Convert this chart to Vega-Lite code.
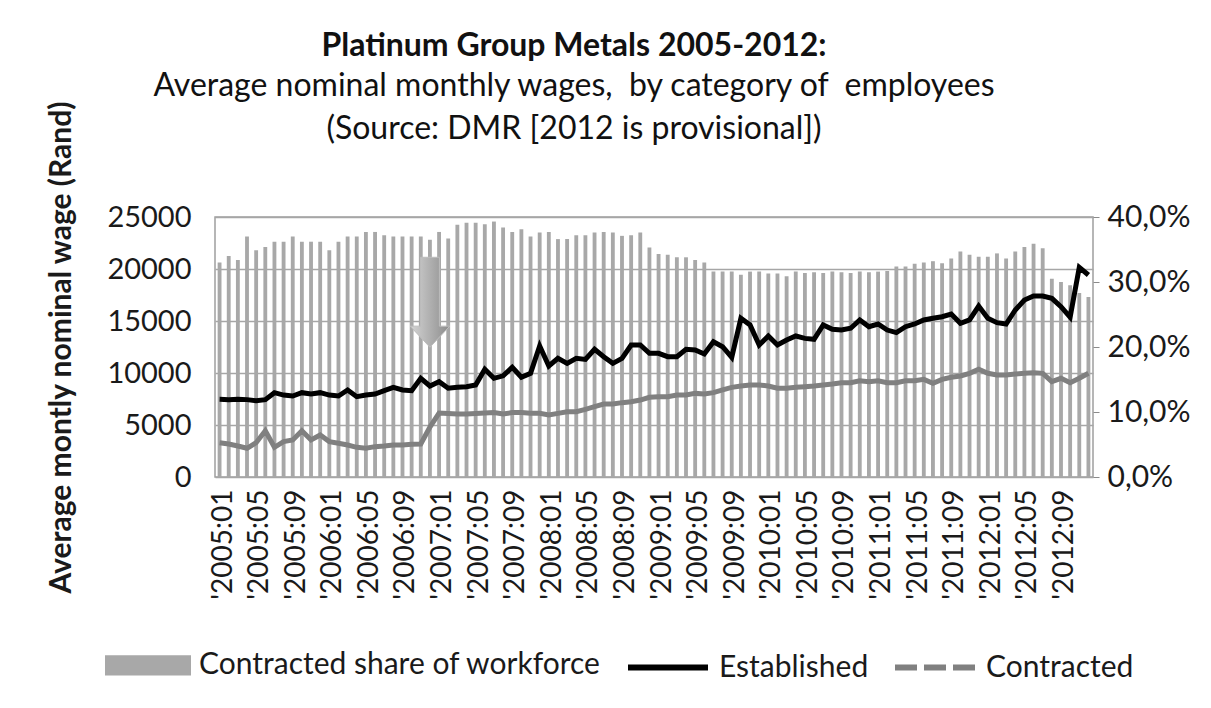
{
  "$schema": "https://vega.github.io/schema/vega-lite/v6.json",
  "width": 878,
  "height": 260,
  "autosize": {"type": "none"},
  "padding": {"left": 215, "top": 217, "right": 118, "bottom": 231},
  "background": "white",
  "config": {
    "font": "Lato",
    "view": {"stroke": "#9f9f9f", "strokeWidth": 1.5},
    "axis": {"labelColor": "#1a1a1a", "titleColor": "#1a1a1a", "labelFont": "Lato", "titleFont": "Lato"}
  },
  "title": {
    "text": "Platinum Group Metals 2005-2012:",
    "subtitle": ["Average nominal monthly wages,\u00a0 by category of\u00a0 employees", "(Source: DMR [2012 is provisional])"],
    "anchor": "middle",
    "font": "Lato",
    "subtitleFont": "Lato",
    "fontSize": 32,
    "fontWeight": "bold",
    "subtitleFontSize": 32,
    "subtitleFontWeight": "normal",
    "subtitleLineHeight": 43,
    "subtitlePadding": 8,
    "color": "#111111",
    "subtitleColor": "#111111",
    "offset": -46,
    "dx": -80
  },
  "datasets": {
    "wages": [
      {"month": "2005:01", "share": 33.0, "Established": 7470, "Contracted": 3300},
      {"month": "2005:02", "share": 34.0, "Established": 7440, "Contracted": 3170},
      {"month": "2005:03", "share": 33.4, "Established": 7470, "Contracted": 2980},
      {"month": "2005:04", "share": 37.0, "Established": 7440, "Contracted": 2760},
      {"month": "2005:05", "share": 34.9, "Established": 7340, "Contracted": 3300},
      {"month": "2005:06", "share": 35.4, "Established": 7440, "Contracted": 4450},
      {"month": "2005:07", "share": 36.2, "Established": 8110, "Contracted": 2860},
      {"month": "2005:08", "share": 36.2, "Established": 7880, "Contracted": 3400},
      {"month": "2005:09", "share": 37.0, "Established": 7790, "Contracted": 3560},
      {"month": "2005:10", "share": 36.2, "Established": 8110, "Contracted": 4450},
      {"month": "2005:11", "share": 36.2, "Established": 7980, "Contracted": 3560},
      {"month": "2005:12", "share": 36.2, "Established": 8110, "Contracted": 4040},
      {"month": "2006:01", "share": 34.9, "Established": 7880, "Contracted": 3400},
      {"month": "2006:02", "share": 36.2, "Established": 7790, "Contracted": 3240},
      {"month": "2006:03", "share": 37.0, "Established": 8370, "Contracted": 3080},
      {"month": "2006:04", "share": 37.0, "Established": 7720, "Contracted": 2850},
      {"month": "2006:05", "share": 37.7, "Established": 7880, "Contracted": 2760},
      {"month": "2006:06", "share": 37.7, "Established": 7980, "Contracted": 2920},
      {"month": "2006:07", "share": 37.2, "Established": 8300, "Contracted": 2980},
      {"month": "2006:08", "share": 37.0, "Established": 8620, "Contracted": 3080},
      {"month": "2006:09", "share": 37.0, "Established": 8370, "Contracted": 3080},
      {"month": "2006:10", "share": 37.0, "Established": 8300, "Contracted": 3140},
      {"month": "2006:11", "share": 37.0, "Established": 9490, "Contracted": 3170},
      {"month": "2006:12", "share": 36.5, "Established": 8750, "Contracted": 4800},
      {"month": "2007:01", "share": 37.7, "Established": 9170, "Contracted": 6150},
      {"month": "2007:02", "share": 36.7, "Established": 8530, "Contracted": 6100},
      {"month": "2007:03", "share": 38.8, "Established": 8620, "Contracted": 6050},
      {"month": "2007:04", "share": 39.1, "Established": 8680, "Contracted": 6050},
      {"month": "2007:05", "share": 39.1, "Established": 8850, "Contracted": 6100},
      {"month": "2007:06", "share": 38.9, "Established": 10360, "Contracted": 6150},
      {"month": "2007:07", "share": 39.3, "Established": 9490, "Contracted": 6200},
      {"month": "2007:08", "share": 38.4, "Established": 9730, "Contracted": 6060},
      {"month": "2007:09", "share": 37.7, "Established": 10550, "Contracted": 6190},
      {"month": "2007:10", "share": 38.1, "Established": 9590, "Contracted": 6190},
      {"month": "2007:11", "share": 37.0, "Established": 9970, "Contracted": 6120},
      {"month": "2007:12", "share": 37.6, "Established": 12600, "Contracted": 6120},
      {"month": "2008:01", "share": 37.7, "Established": 10670, "Contracted": 5960},
      {"month": "2008:02", "share": 36.6, "Established": 11410, "Contracted": 6120},
      {"month": "2008:03", "share": 36.6, "Established": 10930, "Contracted": 6280},
      {"month": "2008:04", "share": 37.2, "Established": 11410, "Contracted": 6280},
      {"month": "2008:05", "share": 37.2, "Established": 11310, "Contracted": 6510},
      {"month": "2008:06", "share": 37.6, "Established": 12280, "Contracted": 6760},
      {"month": "2008:07", "share": 37.7, "Established": 11570, "Contracted": 7020},
      {"month": "2008:08", "share": 37.6, "Established": 10930, "Contracted": 7020},
      {"month": "2008:09", "share": 37.1, "Established": 11410, "Contracted": 7150},
      {"month": "2008:10", "share": 37.2, "Established": 12690, "Contracted": 7240},
      {"month": "2008:11", "share": 37.6, "Established": 12690, "Contracted": 7400},
      {"month": "2008:12", "share": 35.3, "Established": 11890, "Contracted": 7660},
      {"month": "2009:01", "share": 34.3, "Established": 11890, "Contracted": 7720},
      {"month": "2009:02", "share": 34.2, "Established": 11570, "Contracted": 7720},
      {"month": "2009:03", "share": 33.8, "Established": 11570, "Contracted": 7880},
      {"month": "2009:04", "share": 33.8, "Established": 12280, "Contracted": 7880},
      {"month": "2009:05", "share": 33.4, "Established": 12210, "Contracted": 8040},
      {"month": "2009:06", "share": 33.0, "Established": 11830, "Contracted": 7980},
      {"month": "2009:07", "share": 31.6, "Established": 13010, "Contracted": 8110},
      {"month": "2009:08", "share": 31.6, "Established": 12530, "Contracted": 8370},
      {"month": "2009:09", "share": 31.6, "Established": 11510, "Contracted": 8620},
      {"month": "2009:10", "share": 31.1, "Established": 15260, "Contracted": 8750},
      {"month": "2009:11", "share": 31.6, "Established": 14620, "Contracted": 8850},
      {"month": "2009:12", "share": 31.6, "Established": 12690, "Contracted": 8850},
      {"month": "2010:01", "share": 31.3, "Established": 13560, "Contracted": 8750},
      {"month": "2010:02", "share": 31.3, "Established": 12690, "Contracted": 8530},
      {"month": "2010:03", "share": 30.9, "Established": 13170, "Contracted": 8530},
      {"month": "2010:04", "share": 31.6, "Established": 13560, "Contracted": 8620},
      {"month": "2010:05", "share": 31.4, "Established": 13330, "Contracted": 8680},
      {"month": "2010:06", "share": 31.5, "Established": 13240, "Contracted": 8750},
      {"month": "2010:07", "share": 31.4, "Established": 14620, "Contracted": 8850},
      {"month": "2010:08", "share": 31.6, "Established": 14200, "Contracted": 8940},
      {"month": "2010:09", "share": 31.5, "Established": 14130, "Contracted": 9070},
      {"month": "2010:10", "share": 31.4, "Established": 14300, "Contracted": 9070},
      {"month": "2010:11", "share": 31.6, "Established": 15100, "Contracted": 9260},
      {"month": "2010:12", "share": 31.5, "Established": 14450, "Contracted": 9170},
      {"month": "2011:01", "share": 31.6, "Established": 14710, "Contracted": 9260},
      {"month": "2011:02", "share": 31.7, "Established": 14130, "Contracted": 9070},
      {"month": "2011:03", "share": 32.4, "Established": 13880, "Contracted": 9070},
      {"month": "2011:04", "share": 32.4, "Established": 14450, "Contracted": 9260},
      {"month": "2011:05", "share": 32.8, "Established": 14710, "Contracted": 9260},
      {"month": "2011:06", "share": 33.0, "Established": 15100, "Contracted": 9390},
      {"month": "2011:07", "share": 33.2, "Established": 15260, "Contracted": 9010},
      {"month": "2011:08", "share": 32.9, "Established": 15410, "Contracted": 9390},
      {"month": "2011:09", "share": 33.6, "Established": 15670, "Contracted": 9590},
      {"month": "2011:10", "share": 34.7, "Established": 14780, "Contracted": 9710},
      {"month": "2011:11", "share": 34.2, "Established": 15100, "Contracted": 9970},
      {"month": "2011:12", "share": 33.9, "Established": 16440, "Contracted": 10360},
      {"month": "2012:01", "share": 33.9, "Established": 15260, "Contracted": 9970},
      {"month": "2012:02", "share": 34.4, "Established": 14840, "Contracted": 9810},
      {"month": "2012:03", "share": 33.6, "Established": 14710, "Contracted": 9810},
      {"month": "2012:04", "share": 34.7, "Established": 16060, "Contracted": 9900},
      {"month": "2012:05", "share": 35.4, "Established": 17020, "Contracted": 9970},
      {"month": "2012:06", "share": 35.9, "Established": 17400, "Contracted": 10030},
      {"month": "2012:07", "share": 35.2, "Established": 17400, "Contracted": 9970},
      {"month": "2012:08", "share": 30.5, "Established": 17180, "Contracted": 9170},
      {"month": "2012:09", "share": 30.0, "Established": 16380, "Contracted": 9490},
      {"month": "2012:10", "share": 29.5, "Established": 15360, "Contracted": 9070},
      {"month": "2012:11", "share": 28.3, "Established": 20160, "Contracted": 9490},
      {"month": "2012:12", "share": 27.7, "Established": 19420, "Contracted": 9970}
    ],
    "note": [{"month": "2006:12", "wage": 16800}]
  },
  "data": {"name": "wages"},
  "encoding": {
    "x": {
      "field": "month",
      "type": "nominal",
      "sort": null,
      "title": null,
      "scale": {"paddingInner": 0, "paddingOuter": 0},
      "axis": {
        "labelAngle": -90,
        "labelFontSize": 28,
        "labelPadding": 12,
        "labelOffset": 4,
        "labelOverlap": false,
        "ticks": false,
        "domain": false,
        "labelExpr": "(toNumber(substring(datum.value, 5, 7)) - 1) % 4 == 0 ? \"'\" + datum.value : ''"
      }
    }
  },
  "layer": [
    {
      "mark": {"type": "bar", "width": {"band": 0.42}},
      "encoding": {
        "y": {
          "field": "share",
          "type": "quantitative",
          "title": null,
          "scale": {"domain": [0, 40], "nice": false},
          "axis": {
            "orient": "right",
            "values": [0, 10, 20, 30, 40],
            "labelExpr": "replace(format(datum.value, '.1f'), '.', ',') + '%'",
            "labelFontSize": 30,
            "labelPadding": 8,
            "tickSize": 6,
            "tickColor": "#8a8a8a",
            "domain": false,
            "grid": false
          }
        },
        "color": {
          "datum": "Contracted share of workforce",
          "scale": {
            "domain": ["Contracted share of workforce", "Established", "Contracted"],
            "range": ["#a8a8a8", "#000000", "#808080"]
          },
          "legend": {
            "title": null,
            "orient": "none",
            "direction": "horizontal",
            "legendX": -110,
            "legendY": 405,
            "padding": 0,
            "symbolSize": 6400,
            "symbolStrokeWidth": 6,
            "labelFontSize": 30,
            "labelFont": "Lato",
            "labelColor": "#1a1a1a",
            "labelOffset": 8,
            "labelLimit": 600,
            "columnPadding": 14,
            "encode": {
              "symbols": {
                "update": {
                  "shape": {"signal": "datum.value === 'Contracted share of workforce' ? 'M-1,-0.18H1V0.18H-1Z' : 'stroke'"},
                  "fill": {"signal": "datum.value === 'Contracted share of workforce' ? '#a8a8a8' : 'transparent'"},
                  "stroke": {"signal": "datum.value === 'Contracted share of workforce' ? 'transparent' : (datum.value === 'Established' ? '#000000' : '#808080')"},
                  "strokeDash": {"signal": "datum.value === 'Contracted' ? [22, 7] : []"},
                  "strokeWidth": {"value": 6},
                  "opacity": {"value": 1}
                }
              }
            }
          }
        }
      }
    },
    {
      "layer": [
        {
          "transform": [{"fold": ["Established", "Contracted"], "as": ["series", "wage"]}],
          "mark": {"type": "line", "strokeWidth": 5},
          "encoding": {
            "y": {
              "field": "wage",
              "type": "quantitative",
              "title": "Average montly nominal wage (Rand)",
              "scale": {"domain": [0, 25000], "nice": false},
              "axis": {
                "orient": "left",
                "values": [0, 5000, 10000, 15000, 20000, 25000],
                "format": "d",
                "labelFontSize": 29,
                "labelPadding": 24,
                "ticks": false,
                "domain": false,
                "grid": true,
                "gridColor": "#a6a6a6",
                "gridWidth": 1.5,
                "titleFontSize": 30,
                "titleFontWeight": "bold",
                "titlePadding": 30
              }
            },
            "color": {
              "field": "series",
              "type": "nominal",
              "sort": null,
              "legend": {
                "title": null,
                "orient": "none",
                "direction": "horizontal",
                "legendX": -110,
                "legendY": 405,
                "padding": 0,
                "symbolSize": 6400,
                "symbolStrokeWidth": 6,
                "labelFontSize": 30,
                "labelFont": "Lato",
                "labelColor": "#1a1a1a",
                "labelOffset": 8,
                "labelLimit": 600,
                "columnPadding": 14
              }
            }
          }
        },
        {
          "data": {"name": "note"},
          "mark": {
            "type": "point",
            "shape": "M-0.21,-1L0.21,-1L0.21,0.53L0.44,0.53L0,1L-0.44,0.53L-0.21,0.53Z",
            "size": 8100,
            "filled": true,
            "opacity": 1,
            "fill": {"gradient": "linear", "x1": 0, "x2": 1, "y1": 0, "y2": 0, "stops": [{"offset": 0, "color": "#d4d4d4"}, {"offset": 1, "color": "#8c8c8c"}]},
            "stroke": "#bdbdbd",
            "strokeWidth": 1
          },
          "encoding": {
            "y": {"field": "wage", "type": "quantitative"}
          }
        }
      ]
    }
  ],
  "resolve": {"scale": {"y": "independent"}}
}
